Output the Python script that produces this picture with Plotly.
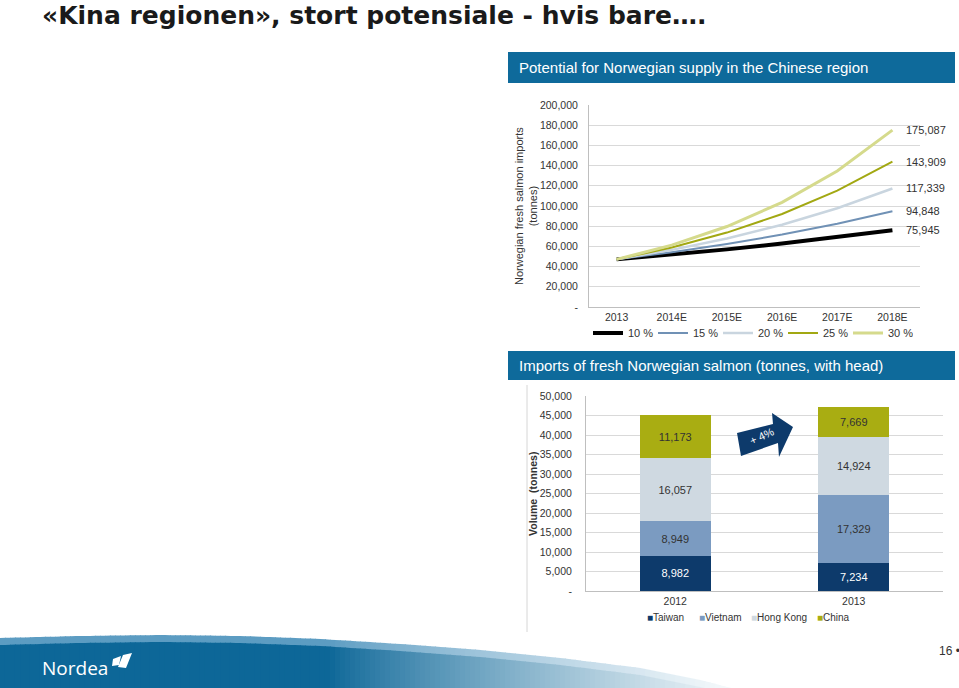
import numpy as np
import plotly.graph_objects as go

W, H = 959, 688

# ---------------- data ----------------
years = ["2013", "2014E", "2015E", "2016E", "2017E", "2018E"]
growth_names = ["10 %", "15 %", "20 %", "25 %", "30 %"]
g10 = [47156, 51872, 57059, 62765, 69042, 75945]
g15 = [47156, 54229, 62364, 71719, 82477, 94848]
g20 = [47156, 56587, 67905, 81486, 97783, 117339]
g25 = [47156, 58945, 73681, 92102, 115127, 143909]
g30 = [47156, 61303, 79694, 103602, 134682, 175087]

line_ytickvals = [0, 20000, 40000, 60000, 80000, 100000, 120000, 140000, 160000, 180000, 200000]
line_yticktext = ["-", "20,000", "40,000", "60,000", "80,000", "100,000", "120,000",
                  "140,000", "160,000", "180,000", "200,000"]

bar_years = ["2012", "2013"]
countries = ["Taiwan", "Vietnam", "Hong Kong", "China"]
taiwan = [8982, 7234]
vietnam = [8949, 17329]
hongkong = [16057, 14924]
china = [11173, 7669]

bar_ytickvals = [0, 5000, 10000, 15000, 20000, 25000, 30000, 35000, 40000, 45000, 50000]
bar_yticktext = ["-", "5,000", "10,000", "15,000", "20,000", "25,000", "30,000",
                 "35,000", "40,000", "45,000", "50,000"]

# ---------------- helpers ----------------
def px(x):
    return x / W

def py(y):
    return 1 - y / H

def path(points):
    s = "M " + " L ".join(f"{px(x):.5f},{py(y):.5f}" for x, y in points) + " Z"
    return s

FONT = "Liberation Sans, Arial, sans-serif"
TXT = "#333333"
GRID = "#d9d9d9"

fig = go.Figure()

# ---------------- line chart ----------------
line_series = [g10, g15, g20, g25, g30]
line_colors = ["#000000", "#7091b5", "#c9d5df", "#a2a812", "#d5da8c"]
line_widths = [4, 2, 2.5, 2, 3]
for name, vals, col, w in zip(growth_names, line_series, line_colors, line_widths):
    fig.add_trace(go.Scatter(
        x=years, y=vals, name=name, mode="lines",
        line=dict(color=col, width=w),
        xaxis="x", yaxis="y", legend="legend",
        hoverinfo="x+y",
    ))

annotations = []
# end labels
for vals in line_series:
    annotations.append(dict(
        x=years[-1], y=vals[-1], xref="x", yref="y", text=f"{vals[-1]:,}",
        showarrow=False, xanchor="left", yanchor="middle", xshift=12,
        font=dict(size=11, color=TXT, family=FONT)))
# start label
annotations.append(dict(
    x=years[0], y=g10[0], xref="x", yref="y", text=f"{g10[0]:,}",
    showarrow=False, xanchor="center", yanchor="middle", xshift=11, yshift=16,
    font=dict(size=11, color=TXT, family=FONT)))

# ---------------- bar chart ----------------
bar_series = [taiwan, vietnam, hongkong, china]
bar_colors = ["#0d3a6b", "#7b9bc1", "#cfd9e1", "#a9ad12"]
bar_text_colors = ["#ffffff", "#333333", "#333333", "#333333"]
for name, vals, col, tcol in zip(countries, bar_series, bar_colors, bar_text_colors):
    fig.add_trace(go.Bar(
        x=bar_years, y=vals, name=name, marker=dict(color=col, line=dict(width=0)),
        width=0.4, xaxis="x2", yaxis="y2", showlegend=False,
        texttemplate="%{y:,}", textposition="inside", insidetextanchor="middle",
        textangle=0, constraintext="none",
        textfont=dict(size=11, color=tcol, family=FONT),
    ))

# bar legend (text annotations)
bar_leg_x = [645, 697, 749, 815]
for name, col, lx in zip(countries, bar_colors, bar_leg_x):
    annotations.append(dict(
        x=px(lx), y=py(617), xref="paper", yref="paper",
        text=f"<span style='color:{col}'>■</span>{name}",
        showarrow=False, xanchor="left", yanchor="middle",
        font=dict(size=10, color=TXT, family=FONT)))

# ---------------- slide texts ----------------
annotations += [
    dict(x=px(41), y=py(0.5), xref="paper", yref="paper",
         text="<b>«Kina regionen», stort potensiale - hvis bare….</b>",
         showarrow=False, xanchor="left", yanchor="top", borderpad=0,
         font=dict(size=25, color="#1a1a1a", family="DejaVu Sans, Verdana"),
         ),
    dict(x=px(517), y=py(68), xref="paper", yref="paper",
         text="Potential for Norwegian supply in the Chinese region",
         showarrow=False, xanchor="left", yanchor="middle",
         font=dict(size=15, color="white", family=FONT)),
    dict(x=px(517), y=py(366), xref="paper", yref="paper",
         text="Imports of fresh Norwegian salmon (tonnes, with head)",
         showarrow=False, xanchor="left", yanchor="middle",
         font=dict(size=15, color="white", family=FONT)),
    dict(x=px(526), y=py(206), xref="paper", yref="paper",
         text="Norwegian fresh salmon imports<br>(tonnes)", textangle=-90,
         showarrow=False, xanchor="center", yanchor="middle",
         font=dict(size=11, color=TXT, family=FONT)),
    dict(x=px(533), y=py(494), xref="paper", yref="paper",
         text="<b>Volume  (tonnes)</b>", textangle=-90,
         showarrow=False, xanchor="center", yanchor="middle",
         font=dict(size=10.5, color=TXT, family=FONT)),
    dict(x=px(762), y=py(436), xref="paper", yref="paper",
         text="+ 4%", textangle=-25,
         showarrow=False, xanchor="center", yanchor="middle",
         font=dict(size=11, color="white", family=FONT)),
    dict(x=px(937), y=py(651), xref="paper", yref="paper",
         text="16 •", showarrow=False, xanchor="left", yanchor="middle",
         font=dict(size=12, color=TXT, family=FONT)),
    dict(x=px(40), y=py(668), xref="paper", yref="paper",
         text="Nordea", showarrow=False, xanchor="left", yanchor="middle",
         font=dict(size=19, color="white", family="Open Sans, Lato")),
]

# ---------------- shapes ----------------
shapes = []
HEAD = "#0e6a9b"
shapes.append(dict(type="rect", xref="paper", yref="paper", x0=px(508), x1=px(955),
                   y0=py(83), y1=py(52), fillcolor=HEAD, line=dict(width=0), layer="below"))
shapes.append(dict(type="rect", xref="paper", yref="paper", x0=px(508), x1=px(955),
                   y0=py(380), y1=py(351), fillcolor=HEAD, line=dict(width=0), layer="below"))
# separator line
shapes.append(dict(type="line", xref="paper", yref="paper", x0=px(527), x1=px(527),
                   y0=py(385), y1=py(632), line=dict(color="#d6d6d6", width=1)))
# arrow
shapes.append(dict(type="path", xref="paper", yref="paper",
                   path=path([(737, 433), (773, 424), (772, 413), (793, 427),
                              (779, 457), (778, 443), (741, 456)]),
                   fillcolor="#0d3a6b", line=dict(width=0)))

# bottom swoosh band
xs_curve = [0, 80, 160, 240, 320, 400, 480, 560, 640, 700, 735]
ys_curve = [638, 636, 635, 636, 639, 644, 650, 658, 668, 680, 689]
dark = np.array([13, 103, 152])
rim = np.array([92, 156, 194])
white = np.array([255, 255, 255])

def mix(c, x):
    t = np.clip((x - 330) / (760 - 330), 0, 1) ** 0.85
    c2 = c + (white - c) * t
    return "rgb(%d,%d,%d)" % tuple(int(round(v)) for v in c2)

step = 5
for off, base in [(0, rim), (7, dark)]:
    for x0 in range(0, 736, step):
        x1 = x0 + step
        y0 = np.interp(x0, xs_curve, ys_curve) + off
        y1 = np.interp(x1, xs_curve, ys_curve) + off
        if y0 >= 688 and y1 >= 688:
            continue
        shapes.append(dict(type="path", xref="paper", yref="paper",
                           path=path([(x0, y0), (x1 + 0.8, y1), (x1 + 0.8, 689), (x0, 689)]),
                           fillcolor=mix(base, x0 + step / 2), line=dict(width=0), layer="below"))

# Nordea sail icon
shapes.append(dict(type="path", xref="paper", yref="paper",
                   path=path([(113, 659), (121, 656), (119, 665), (112, 666)]),
                   fillcolor="white", line=dict(width=0)))
shapes.append(dict(type="path", xref="paper", yref="paper",
                   path=path([(123, 655), (132, 653), (126, 668), (118, 667)]),
                   fillcolor="white", line=dict(width=0)))

# ---------------- layout ----------------
axis_common = dict(showline=True, linecolor="#bfbfbf", linewidth=1,
                   tickfont=dict(size=10.5, color=TXT, family=FONT), zeroline=False,
                   fixedrange=True, automargin=False)

fig.update_layout(
    width=W, height=H, margin=dict(l=0, r=0, t=0, b=0, autoexpand=False),
    paper_bgcolor="white", plot_bgcolor="white",
    font=dict(family=FONT, color=TXT),
    xaxis=dict(domain=[px(589), px(920)], anchor="y", type="category",
               range=[-0.5, 5.5], showgrid=False, ticks="", **axis_common),
    yaxis=dict(domain=[py(307), py(105)], anchor="x", range=[0, 200000],
               tickvals=line_ytickvals, ticktext=line_yticktext,
               showgrid=True, gridcolor=GRID, gridwidth=1, ticks="",
               ticklabelstandoff=8, **axis_common),
    xaxis2=dict(domain=[px(586), px(943)], anchor="y2", type="category",
                range=[-0.5, 1.5], showgrid=False, ticks="", **axis_common),
    yaxis2=dict(domain=[py(591), py(396)], anchor="x2", range=[0, 50000],
                tickvals=bar_ytickvals, ticktext=bar_yticktext,
                showgrid=True, gridcolor=GRID, gridwidth=1, ticks="",
                ticklabelstandoff=11, **axis_common),
    barmode="stack",
    legend=dict(orientation="h", x=px(588), y=py(333), xanchor="left", yanchor="middle",
                font=dict(size=11, color=TXT, family=FONT), bgcolor="rgba(0,0,0,0)",
                entrywidth=20, entrywidthmode="pixels", traceorder="normal",
                itemclick=False, itemdoubleclick=False),
    annotations=annotations,
    shapes=shapes,
    showlegend=True,
)

fig.write_html("out.html")
